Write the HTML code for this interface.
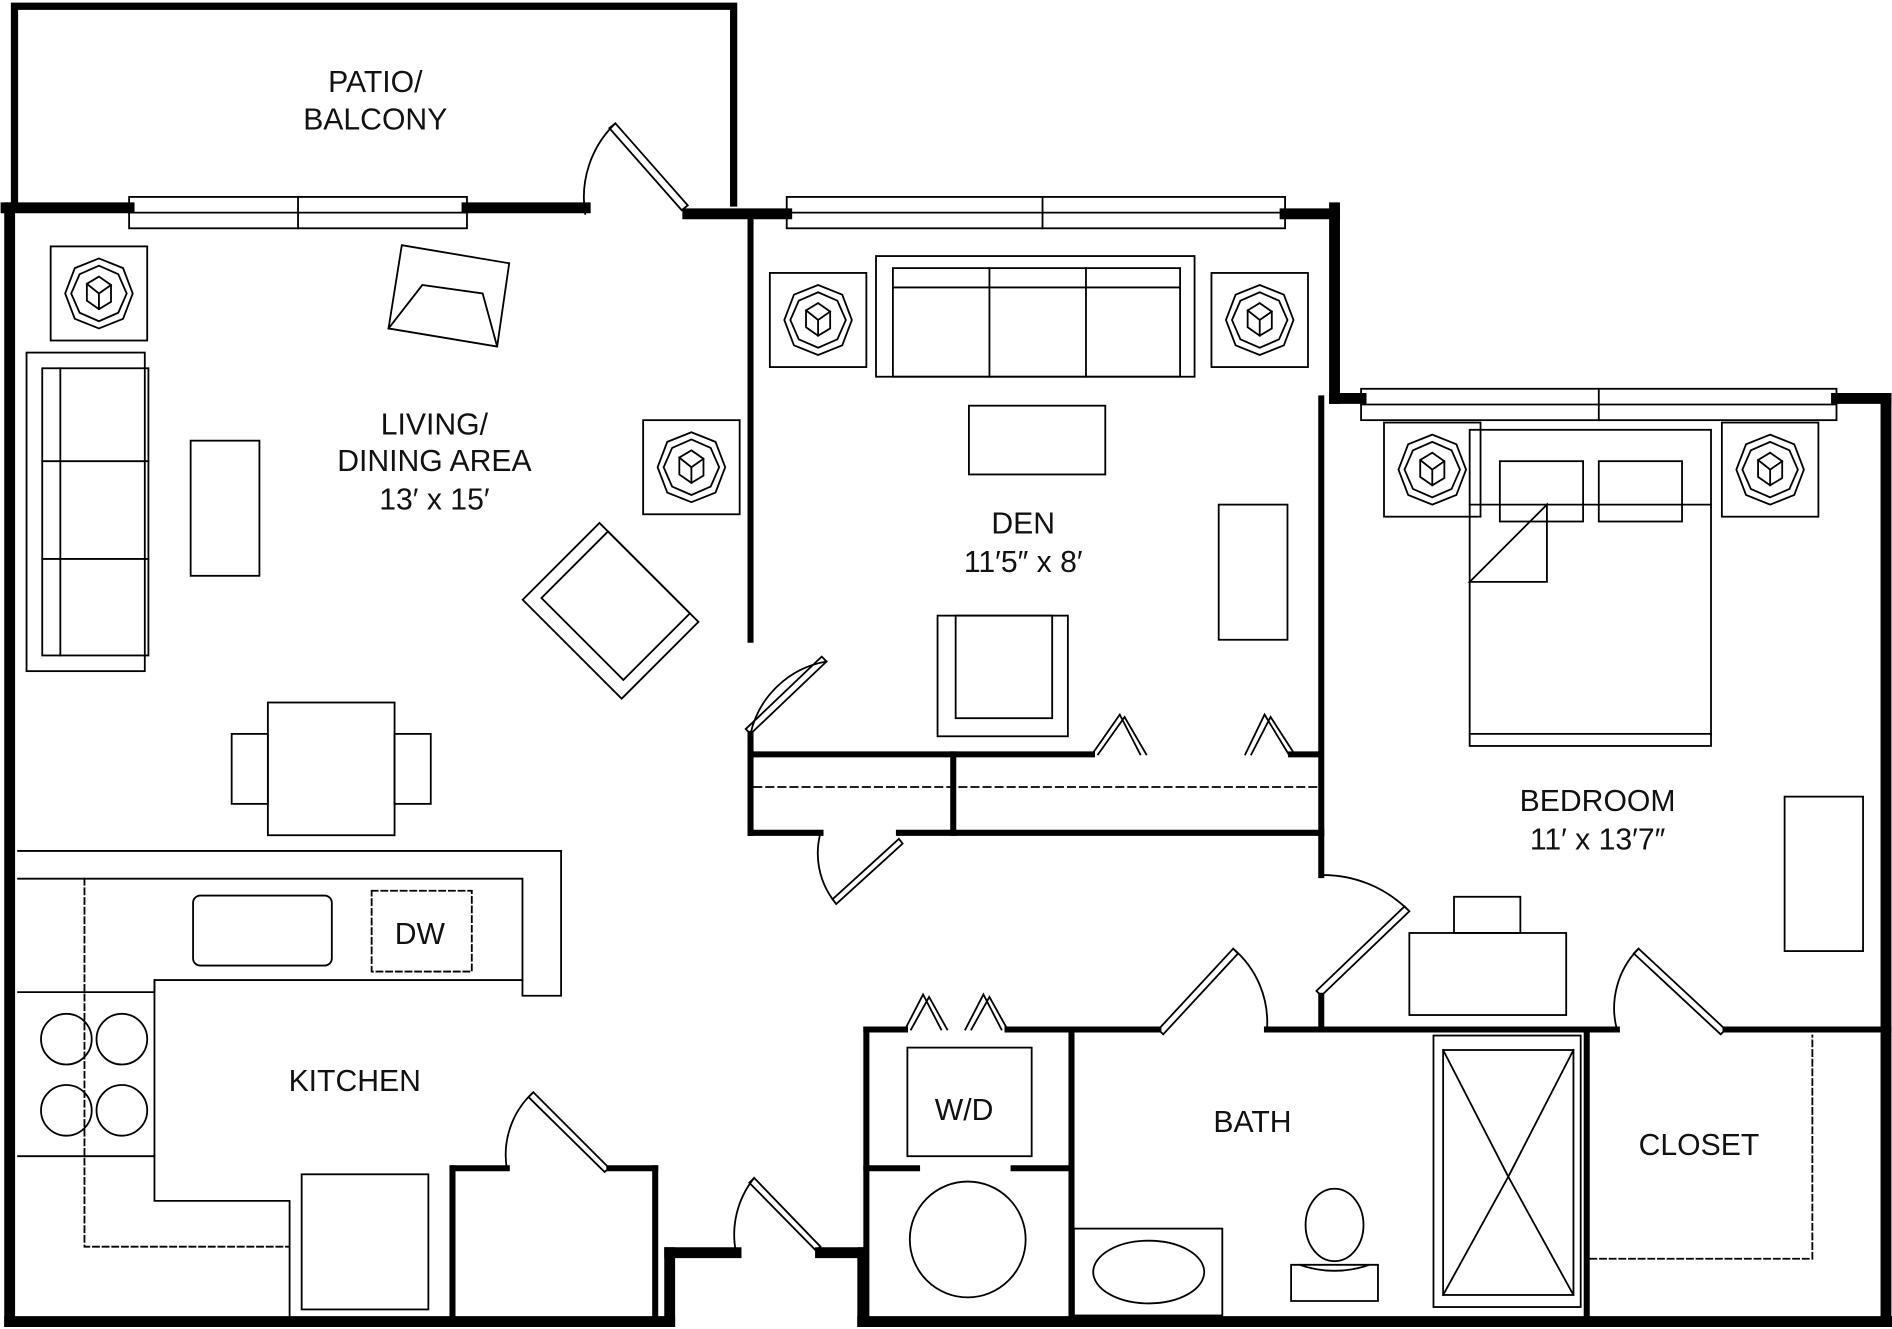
<!DOCTYPE html>
<html><head><meta charset="utf-8"><style>
html,body{margin:0;padding:0;background:#fff}
svg{display:block}
text{font-family:"Liberation Sans",sans-serif;font-size:25px;fill:#111;text-anchor:middle}
</style></head><body>
<svg width="1892" height="1329" viewBox="0 0 1568 1101" xmlns="http://www.w3.org/2000/svg">
<g fill="none" stroke="#000" stroke-linecap="square">
<!-- patio -->
<polyline points="12,165 12,5 608,5 608,168" stroke-width="6"/>
<!-- thick outer walls -->
<g stroke-width="9">
<line x1="5" y1="172" x2="107" y2="172"/>
<line x1="387" y1="172" x2="485" y2="172"/>
<line x1="570" y1="177" x2="652" y2="177"/>
<line x1="1065" y1="177" x2="1106" y2="177"/>
<line x1="8" y1="172" x2="8" y2="1095"/>
<line x1="1106" y1="172" x2="1106" y2="330"/>
<line x1="1106" y1="330" x2="1128" y2="330"/>
<line x1="1522" y1="330" x2="1563" y2="330"/>
<line x1="1563" y1="330" x2="1563" y2="1095"/>
<line x1="8" y1="1095" x2="555" y2="1095"/>
<line x1="555" y1="1095" x2="555" y2="1038"/>
<line x1="555" y1="1038" x2="610" y2="1038"/>
<line x1="680" y1="1038" x2="715" y2="1038"/>
<line x1="715" y1="1038" x2="715" y2="1095"/>
<line x1="715" y1="1095" x2="1565" y2="1095"/>
</g>
<!-- interior walls -->
<g stroke-width="5">
<line x1="622" y1="177" x2="622" y2="530"/>
<line x1="622" y1="608" x2="622" y2="690"/>
<line x1="622" y1="625" x2="905" y2="625"/>
<line x1="1070" y1="625" x2="1092" y2="625"/>
<line x1="790" y1="625" x2="790" y2="690"/>
<line x1="622" y1="690" x2="680" y2="690"/>
<line x1="745" y1="690" x2="1095" y2="690"/>
<line x1="1095" y1="330" x2="1095" y2="725"/>
<line x1="1095" y1="825" x2="1095" y2="853"/>
<line x1="1050" y1="853" x2="1340" y2="853"/>
<line x1="1430" y1="853" x2="1565" y2="853"/>
<line x1="718" y1="853" x2="718" y2="1095"/>
<line x1="718" y1="853" x2="750" y2="853"/>
<line x1="835" y1="853" x2="960" y2="853"/>
<line x1="888" y1="853" x2="888" y2="1095"/>
<line x1="718" y1="968" x2="760" y2="968"/>
<line x1="840" y1="968" x2="888" y2="968"/>
<line x1="1315" y1="853" x2="1315" y2="1095"/>
<line x1="375" y1="968" x2="375" y2="1095"/>
<line x1="375" y1="968" x2="420" y2="968"/>
<line x1="505" y1="968" x2="543" y2="968"/>
<line x1="543" y1="968" x2="543" y2="1095"/>
</g>
<g stroke-width="1.5">
<!-- windows -->
<rect x="107" y="163" width="280" height="26"/><line x1="107" y1="176" x2="387" y2="176"/><line x1="247" y1="163" x2="247" y2="189"/>
<rect x="652" y="163" width="413" height="26"/><line x1="652" y1="176" x2="1065" y2="176"/><line x1="864" y1="163" x2="864" y2="189"/>
<rect x="1128" y="322" width="394" height="26"/><line x1="1128" y1="335" x2="1522" y2="335"/><line x1="1325" y1="322" x2="1325" y2="348"/>
<!-- dashed closet line -->
<line x1="625" y1="652" x2="1092" y2="652" stroke-dasharray="6,4"/>
<!-- doors -->
<path d="M485,177 A85,85 0 0 1 510,102"/><path d="M510,102 L570,170 L565,174 L505,106 Z"/>
<path d="M622,608 A78,78 0 0 1 685,548"/><path d="M622,608 L685,548 L681,544 L618,604Z"/>
<path d="M680,690 A65,65 0 0 0 690,745"/><path d="M690,745 L745,695 L748,699 L693,749Z"/>
<path d="M1095,725 A100,100 0 0 1 1168,755"/><path d="M1095,825 L1168,755 L1164,751 L1091,821Z"/>
<path d="M960,853 L1022,786 L1026,790 L964,857Z"/><path d="M1022,786 A80,80 0 0 1 1050,853"/>
<path d="M1340,853 A70,70 0 0 1 1358,786"/><path d="M1358,786 L1430,853 L1426,857 L1354,790Z"/>
<path d="M420,968 A70,70 0 0 1 442,905"/><path d="M442,905 L505,968 L501,971 L438,909Z"/>
<path d="M610,1038 A75,75 0 0 1 625,976"/><path d="M625,976 L680,1033 L676,1036 L621,980Z"/>
<!-- bifolds -->
<path d="M905,625 L928,592 L945,625 M910,625 L932,594 L950,625"/>
<path d="M1032,625 L1048,592 L1068,625 M1037,625 L1053,594 L1073,625"/>
<path d="M750,853 L765,824 L780,853 M755,853 L770,826 L785,853"/>
<path d="M800,853 L815,824 L830,853 M805,853 L820,826 L835,853"/>
<!-- lamps -->
<g id="l"><rect x="42" y="204" width="80" height="78"/><polygon points="82,214 102,222 110,243 102,264 82,272 62,264 54,243 62,222"/><polygon points="82,220 98,227 105,243 98,259 82,266 66,259 59,243 66,227"/><polygon points="72,235 82,229 92,236 92,250 82,256 72,249"/><path d="M72,235 L82,243 L92,236 M82,243 L82,256"/></g>
<use href="#l" x="491" y="144"/><use href="#l" x="596" y="22"/><use href="#l" x="962" y="22"/><use href="#l" x="1105" y="146"/><use href="#l" x="1385" y="146"/>
<!-- living furniture -->
<rect x="22" y="292" width="98" height="264"/><rect x="35" y="305" width="88" height="238"/><line x1="50" y1="305" x2="50" y2="543"/><line x1="35" y1="382" x2="123" y2="382"/><line x1="35" y1="463" x2="123" y2="463"/>
<rect x="158" y="365" width="57" height="112"/>
<polygon points="333,203 422,218 412,287 322,272"/><polyline points="322,272 350,236 400,243 412,287"/>
<g transform="rotate(45 506 506)"><rect x="448" y="461" width="116" height="90"/><rect x="458" y="461" width="96" height="78"/></g>
<rect x="222" y="582" width="105" height="110"/><rect x="192" y="608" width="30" height="58"/><rect x="327" y="608" width="30" height="58"/>
<!-- kitchen -->
<polyline points="15,705 465,705 465,825 433,825 433,728 15,728"/>
<polyline points="15,822 128,822 128,812 433,812"/>
<polyline points="15,958 128,958 128,812"/>
<polyline points="128,958 128,995 240,995 240,1090"/>
<rect x="160" y="742" width="115" height="58" rx="6"/>
<rect x="308" y="738" width="83" height="67" stroke-dasharray="5,3"/>
<polyline points="70,728 70,1033 240,1033" stroke-dasharray="5,3"/>
<circle cx="55" cy="861" r="21"/><circle cx="101" cy="861" r="21"/><circle cx="55" cy="920" r="21"/><circle cx="101" cy="920" r="21"/>
<rect x="250" y="973" width="105" height="112"/>
<!-- den -->
<rect x="726" y="212" width="264" height="100"/><rect x="740" y="222" width="238" height="90"/><line x1="740" y1="238" x2="978" y2="238"/><line x1="820" y1="222" x2="820" y2="312"/><line x1="900" y1="222" x2="900" y2="312"/>
<rect x="803" y="336" width="113" height="57"/>
<rect x="1010" y="418" width="57" height="112"/>
<rect x="777" y="510" width="108" height="100"/><rect x="792" y="510" width="80" height="85"/>
<!-- bedroom -->
<rect x="1218" y="356" width="200" height="262"/><line x1="1218" y1="608" x2="1418" y2="608"/>
<rect x="1243" y="382" width="69" height="50"/><rect x="1325" y="382" width="69" height="50"/>
<polyline points="1218,418 1418,418"/><polygon points="1218,482 1282,418 1282,482"/>
<rect x="1479" y="660" width="65" height="128"/>
<rect x="1168" y="773" width="130" height="68"/><rect x="1205" y="743" width="55" height="30"/>
<!-- laundry/bath -->
<rect x="752" y="868" width="103" height="90"/>
<circle cx="802" cy="1027" r="48"/>
<rect x="890" y="1018" width="123" height="72"/><ellipse cx="952" cy="1054" rx="46" ry="26"/>
<ellipse cx="1106" cy="1015" rx="24" ry="30"/><path d="M1070,1048 L1142,1048 L1142,1078 L1070,1078 Z M1077,1048 Q1106,1058 1135,1048"/>
<rect x="1188" y="858" width="122" height="225"/><rect x="1196" y="870" width="108" height="203"/>
<path d="M1196,870 L1250,975 L1304,870 M1196,1073 L1250,975 L1304,1073"/>
<polyline points="1318,1043 1502,1043 1502,858" stroke-dasharray="5,3"/>
</g>
</g>
<text x="311" y="76">PATIO/</text><text x="311" y="107">BALCONY</text>
<text x="360" y="360">LIVING/</text><text x="360" y="390">DINING AREA</text><text x="360" y="422">13′ x 15′</text>
<text x="848" y="442">DEN</text><text x="848" y="474">11′5″ x 8′</text>
<text x="1324" y="672">BEDROOM</text><text x="1324" y="704">11′ x 13′7″</text>
<text x="348" y="782">DW</text>
<text x="294" y="904">KITCHEN</text>
<text x="799" y="928">W/D</text>
<text x="1038" y="938">BATH</text>
<text x="1408" y="957">CLOSET</text>
</svg>
</body></html>
